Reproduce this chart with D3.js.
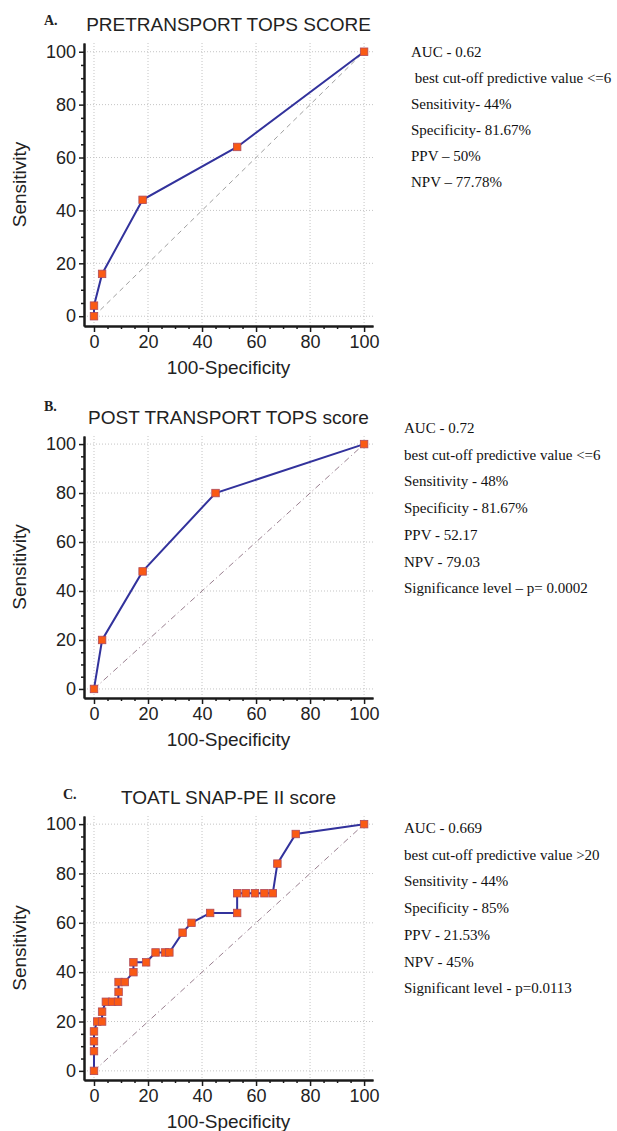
<!DOCTYPE html>
<html>
<head>
<meta charset="utf-8">
<script src="https://cdn.jsdelivr.net/npm/d3@7"></script>
<style>
  html, body { margin: 0; padding: 0; background: #fff; }
  svg { display: block; }
</style>
</head>
<body>
<svg id="chart" width="617" height="1131"></svg>
<script>
// ROC points (x = 100-Specificity, y = Sensitivity)
const pretransX = [0, 0, 3, 18, 53, 100];
const pretransY = [0, 4, 16, 44, 64, 100];

const postX = [0, 3, 18, 45, 100];
const postY = [0, 20, 48, 80, 100];

const snapX = [0, 0, 0, 0, 1.2, 3, 3, 4.4, 6.7, 8.9, 9.1, 9.1, 11.4, 14.6, 14.6, 19.3,
  22.8, 26.3, 27.9, 32.8, 36.1, 43, 53, 53, 56.2, 59.6, 63.1, 66.2, 67.9, 74.7, 100];
const snapY = [0, 8, 12, 16, 20, 20, 24, 28, 28, 28, 32, 36, 36, 40, 44, 44,
  48, 48, 48, 56, 60, 64, 64, 72, 72, 72, 72, 72, 84, 96, 100];

const majorTicks = [0, 20, 40, 60, 80, 100];
const minorTicks = d3.range(0, 101, 5).filter(v => v % 20 !== 0);

const letters = ["A.", "B.", "C."];
const titles = ["PRETRANSPORT TOPS SCORE", "POST TRANSPORT TOPS score", "TOATL SNAP-PE II score"];

const statsA = ["AUC - 0.62", " best cut-off predictive value <=6", "Sensitivity- 44%",
  "Specificity- 81.67%", "PPV \u2013 50%", "NPV \u2013 77.78%"];
const statsB = ["AUC - 0.72", "best cut-off predictive value <=6", "Sensitivity - 48%",
  "Specificity - 81.67%", "PPV - 52.17", "NPV - 79.03", "Significance level \u2013 p= 0.0002"];
const statsC = ["AUC - 0.669", "best cut-off predictive value >20", "Sensitivity - 44%",
  "Specificity - 85%", "PPV - 21.53%", "NPV - 45%", "Significant level - p=0.0113"];

const svg = d3.select("#chart");
const sans = "'Liberation Sans', Arial, sans-serif";
const serif = "'Liberation Serif', 'Times New Roman', serif";

// shared horizontal layout, each panel has its own vertical extent
const left = 84, right = 373;
const domain = [-3.7, 103.3];

const panels = [
  { xs: pretransX, ys: pretransY, top: 43, bottom: 326, diag: "5,4", diagColor: "#a0a0a0",
    letterY: 25, titleY: 31, stats: statsA, statX: 411, statY: 57, statStep: 26 },
  { xs: postX, ys: postY, top: 436, bottom: 698, diag: "6,3,1,3", diagColor: "#9a8090",
    letterY: 411, titleY: 424, stats: statsB, statX: 404, statY: 433, statStep: 26.7 },
  { xs: snapX, ys: snapY, top: 816, bottom: 1080, diag: "6,3,1,3", diagColor: "#9a8090",
    letterY: 799, titleY: 804, stats: statsC, statX: 404, statY: 833, statStep: 26.7 }
];

panels.forEach((p, i) => {
  const x = d3.scaleLinear().domain(domain).range([left, right]);
  const y = d3.scaleLinear().domain(domain).range([p.bottom, p.top]);
  const g = svg.append("g");

  // dotted grid
  g.selectAll(".gx").data(majorTicks).join("line")
    .attr("x1", d => x(d)).attr("x2", d => x(d))
    .attr("y1", p.top).attr("y2", p.bottom)
    .attr("stroke", "#c4c4c4").attr("stroke-width", 1).attr("stroke-dasharray", "1,2");
  g.selectAll(".gy").data(majorTicks).join("line")
    .attr("x1", left).attr("x2", right)
    .attr("y1", d => y(d)).attr("y2", d => y(d))
    .attr("stroke", "#c4c4c4").attr("stroke-width", 1).attr("stroke-dasharray", "1,2");

  // reference diagonal
  g.append("line")
    .attr("x1", x(0)).attr("y1", y(0)).attr("x2", x(100)).attr("y2", y(100))
    .attr("stroke", p.diagColor).attr("stroke-width", 1).attr("stroke-dasharray", p.diag);

  // axes: minor then major
  const xMinor = g.append("g").attr("transform", `translate(0,${p.bottom})`)
    .call(d3.axisBottom(x).tickValues(minorTicks).tickSize(3).tickSizeOuter(0).tickFormat(""));
  const yMinor = g.append("g").attr("transform", `translate(${left},0)`)
    .call(d3.axisLeft(y).tickValues(minorTicks).tickSize(3).tickSizeOuter(0).tickFormat(""));
  const xAxis = g.append("g").attr("transform", `translate(0,${p.bottom})`)
    .call(d3.axisBottom(x).tickValues(majorTicks).tickSize(6).tickPadding(3).tickSizeOuter(0));
  const yAxis = g.append("g").attr("transform", `translate(${left},0)`)
    .call(d3.axisLeft(y).tickValues(majorTicks).tickSize(5).tickPadding(3).tickSizeOuter(0));

  [xMinor, yMinor, xAxis, yAxis].forEach(a => {
    a.selectAll("path").attr("stroke", "#1a1a1a").attr("stroke-width", 2);
    a.selectAll("line").attr("stroke", "#1a1a1a").attr("stroke-width", 1.5);
    a.selectAll("text").attr("font-family", sans).attr("font-size", 18).attr("fill", "#222");
  });

  // axis titles
  g.append("text")
    .attr("x", (left + right) / 2).attr("y", p.bottom + 48)
    .attr("text-anchor", "middle").attr("font-family", sans).attr("font-size", 19).attr("fill", "#222")
    .text("100-Specificity");
  g.append("text")
    .attr("transform", `translate(26,${(p.top + p.bottom) / 2}) rotate(-90)`)
    .attr("text-anchor", "middle").attr("font-family", sans).attr("font-size", 19).attr("fill", "#222")
    .text("Sensitivity");

  // panel letter and title
  g.append("text")
    .attr("x", i === 2 ? 63 : 44).attr("y", p.letterY)
    .attr("font-family", serif).attr("font-weight", "bold").attr("font-size", 14).attr("fill", "#222")
    .text(letters[i]);
  g.append("text")
    .attr("x", (left + right) / 2).attr("y", p.titleY)
    .attr("text-anchor", "middle").attr("font-family", sans).attr("font-size", 19).attr("fill", "#222")
    .text(titles[i]);

  // ROC curve
  const pts = p.xs.map((v, k) => [v, p.ys[k]]);
  g.append("path")
    .datum(pts)
    .attr("d", d3.line().x(d => x(d[0])).y(d => y(d[1])))
    .attr("fill", "none").attr("stroke", "#32329c").attr("stroke-width", 2);

  const s = 7.5;
  g.selectAll(".pt").data(pts).join("rect")
    .attr("x", d => x(d[0]) - s / 2).attr("y", d => y(d[1]) - s / 2)
    .attr("width", s).attr("height", s)
    .attr("fill", "#fa5a14").attr("stroke", "#b04a5a").attr("stroke-width", 0.8);

  // stats text on the right
  g.selectAll(".st").data(p.stats).join("text")
    .attr("x", p.statX).attr("y", (d, k) => p.statY + k * p.statStep)
    .attr("font-family", serif).attr("font-size", 15).attr("fill", "#111")
    .attr("xml:space", "preserve").style("white-space", "pre")
    .text(d => d);
});
</script>
</body>
</html>
